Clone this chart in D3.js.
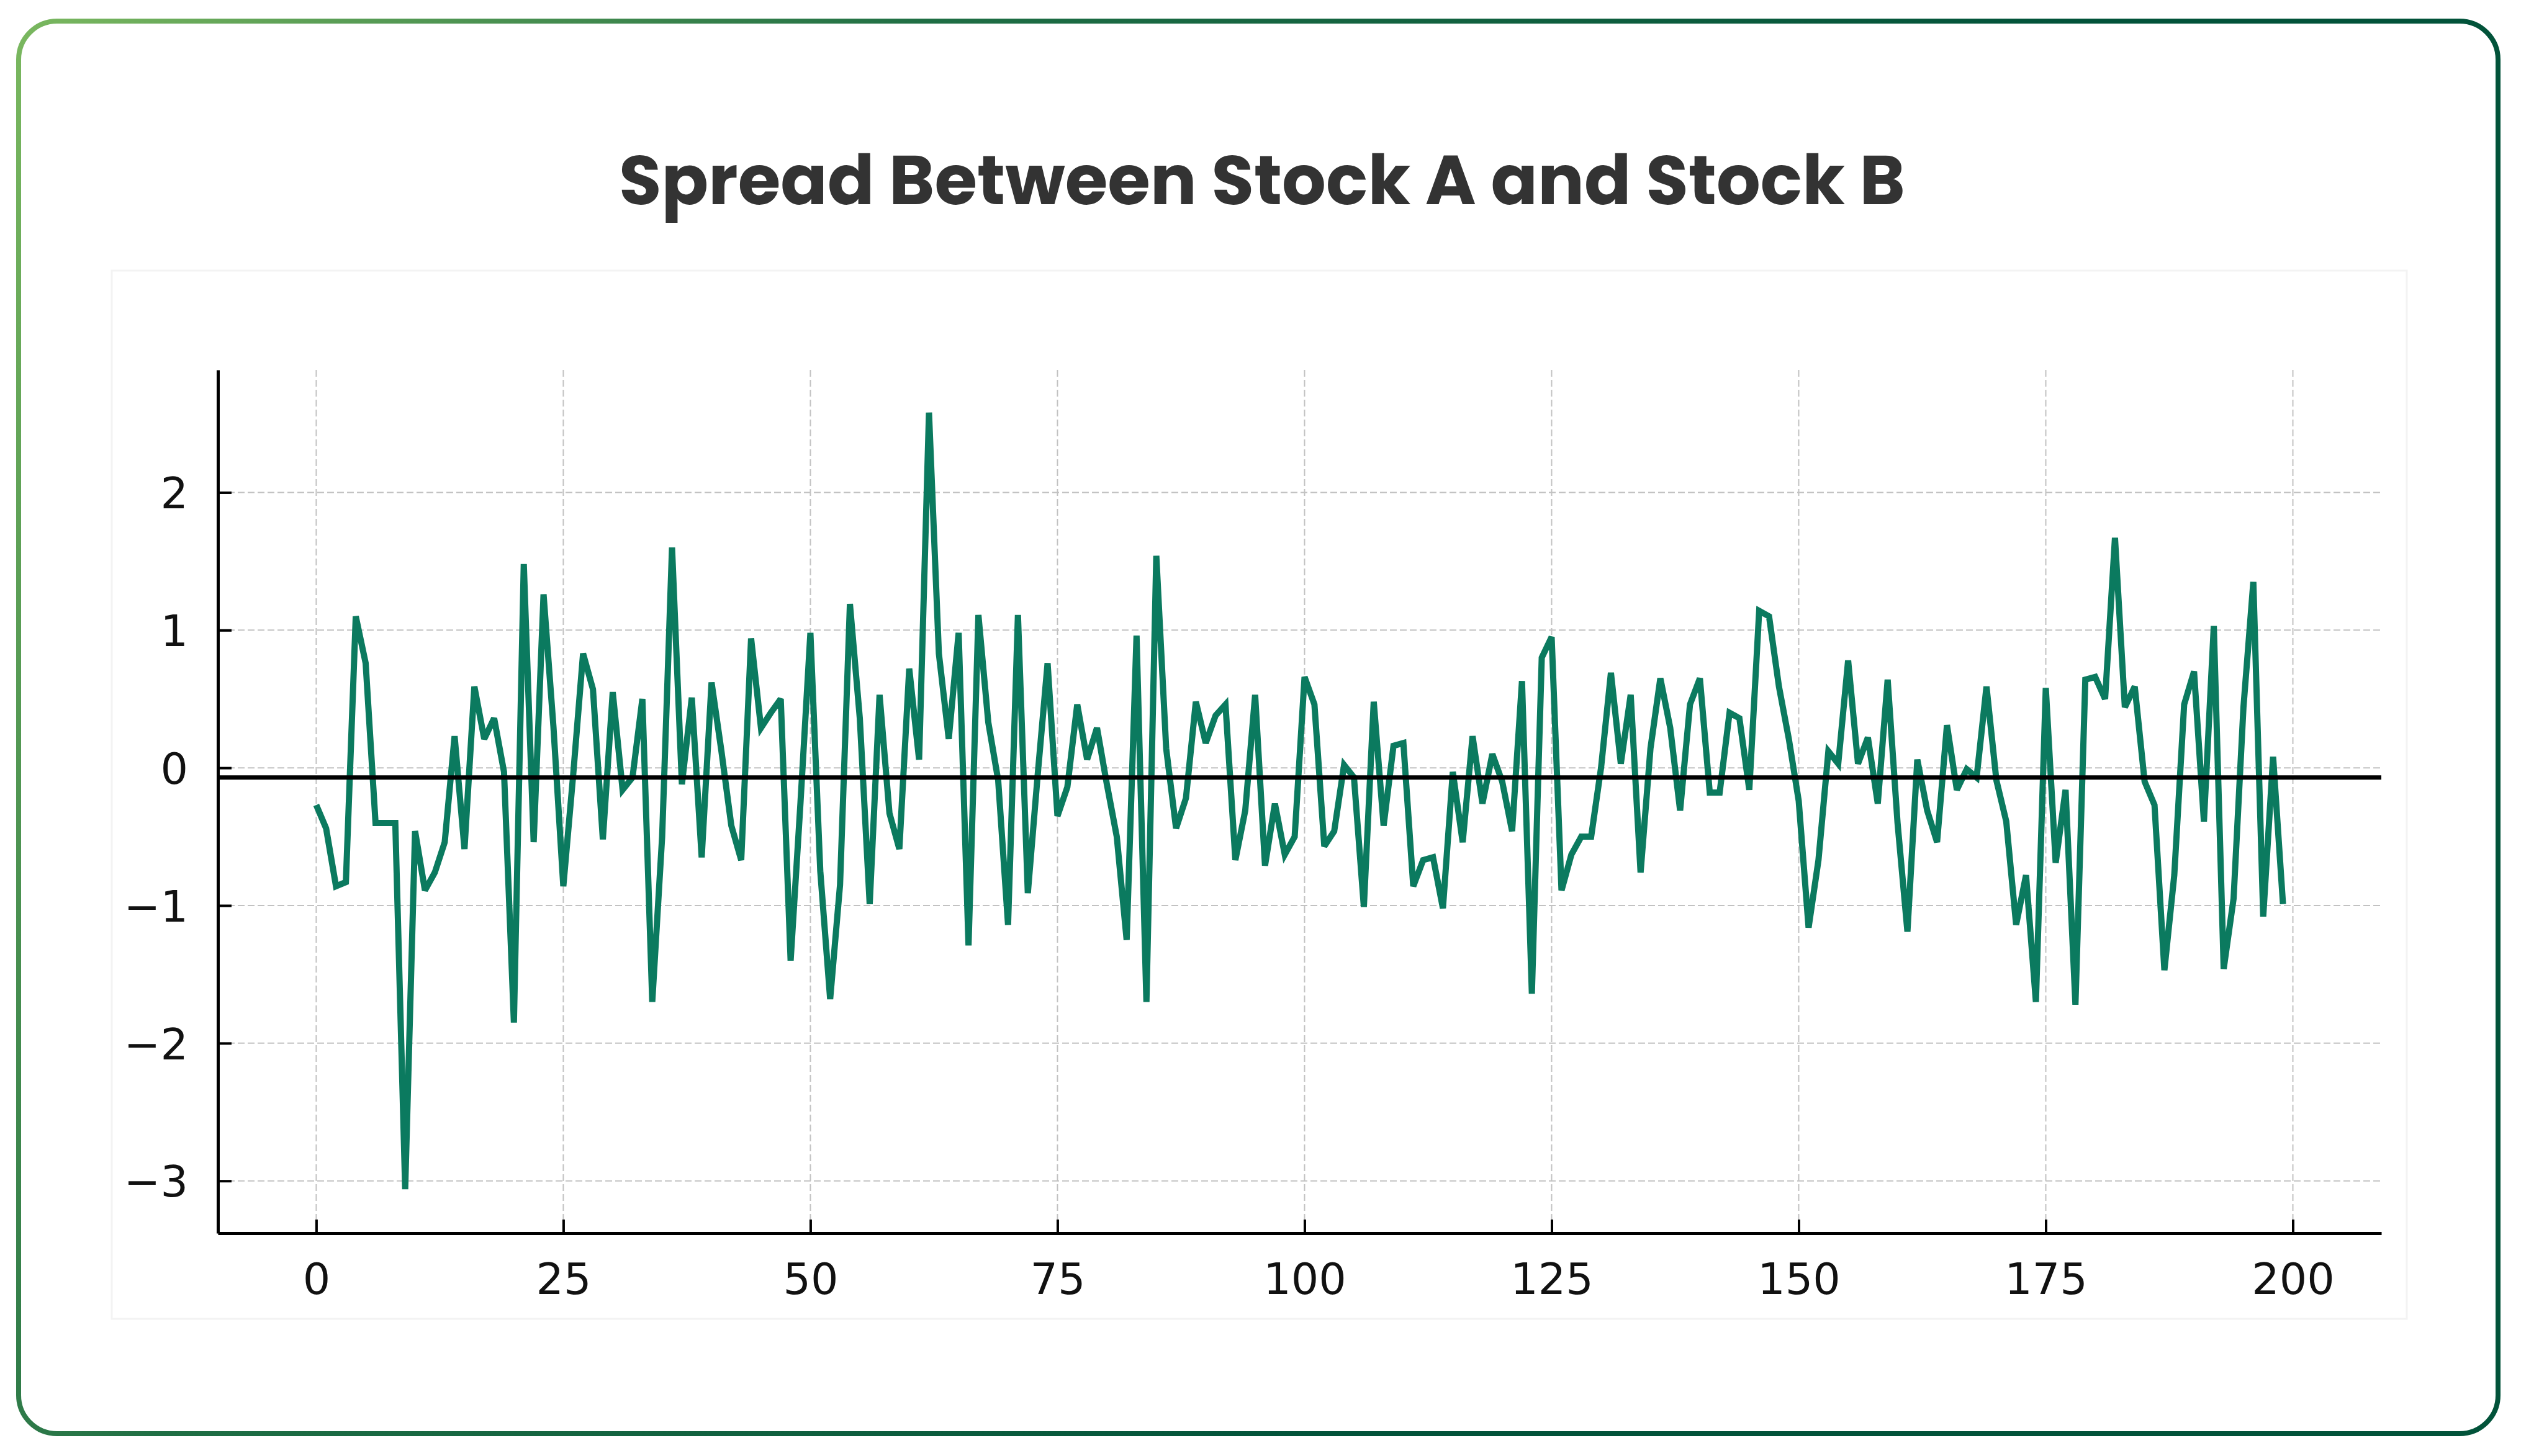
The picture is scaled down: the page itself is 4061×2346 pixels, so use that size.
<!DOCTYPE html>
<html>
<head>
<meta charset="utf-8">
<script src="https://cdn.jsdelivr.net/npm/d3@7"></script>
<style>
  html, body { margin: 0; padding: 0; background: #fff; }
  svg { display: block; }
</style>
</head>
<body>
<div id="chart"></div>
<script>
// values, one per day (index 0..199)
var title = "Spread Between Stock A and Stock B";
var spread = [
  -0.27, -0.44, -0.86, -0.83, 1.10, 0.76, -0.40, -0.40, -0.40, -3.06,
  -0.46, -0.89, -0.76, -0.54, 0.23, -0.59, 0.59, 0.21, 0.36, -0.03,
  -1.85, 1.48, -0.54, 1.26, 0.30, -0.86, -0.05, 0.83, 0.57, -0.52,
  0.55, -0.16, -0.07, 0.50, -1.70, -0.50, 1.60, -0.12, 0.51, -0.65,
  0.62, 0.12, -0.42, -0.67, 0.94, 0.29, 0.40, 0.50, -1.40, -0.25,
  0.98, -0.75, -1.68, -0.85, 1.19, 0.36, -0.99, 0.53, -0.33, -0.59,
  0.72, 0.06, 2.58, 0.83, 0.21, 0.98, -1.29, 1.11, 0.33, -0.09,
  -1.14, 1.11, -0.91, -0.05, 0.76, -0.35, -0.14, 0.46, 0.06, 0.29,
  -0.12, -0.50, -1.25, 0.96, -1.70, 1.54, 0.14, -0.44, -0.22, 0.48,
  0.18, 0.38, 0.46, -0.67, -0.31, 0.53, -0.71, -0.26, -0.63, -0.50,
  0.66, 0.46, -0.57, -0.46, 0.02, -0.07, -1.01, 0.48, -0.42, 0.16,
  0.18, -0.86, -0.67, -0.65, -1.02, -0.03, -0.54, 0.23, -0.26, 0.10,
  -0.10, -0.46, 0.63, -1.64, 0.80, 0.95, -0.89, -0.63, -0.50, -0.50,
  0.00, 0.69, 0.03, 0.53, -0.76, 0.14, 0.65, 0.29, -0.31, 0.46,
  0.65, -0.18, -0.18, 0.40, 0.36, -0.16, 1.14, 1.10, 0.59, 0.21,
  -0.24, -1.16, -0.67, 0.12, 0.03, 0.78, 0.03, 0.22, -0.26, 0.64,
  -0.40, -1.19, 0.06, -0.31, -0.54, 0.31, -0.16, -0.01, -0.07, 0.59,
  -0.09, -0.39, -1.14, -0.78, -1.70, 0.58, -0.69, -0.16, -1.72, 0.64,
  0.66, 0.50, 1.67, 0.44, 0.59, -0.10, -0.27, -1.47, -0.78, 0.46,
  0.70, -0.39, 1.03, -1.46, -0.95, 0.44, 1.35, -1.08, 0.08, -0.99
];
var meanSpread = -0.07;
var xTicks = [0, 25, 50, 75, 100, 125, 150, 175, 200];
var yTicks = [-3, -2, -1, 0, 1, 2];
var xLimits = [-9.95, 208.95];
var yLimits = [-3.38, 2.89];

var W = 4061, H = 2346;
var svg = d3.select("#chart").append("svg")
  .attr("width", W)
  .attr("height", H);

// card border with a green gradient
var defs = svg.append("defs");
var grad = defs.append("linearGradient")
  .attr("id", "cardGrad")
  .attr("gradientUnits", "userSpaceOnUse")
  .attr("x1", 0).attr("y1", 0)
  .attr("x2", 2600).attr("y2", 1400);
grad.append("stop").attr("offset", "0%").attr("stop-color", "#7dba60");
grad.append("stop").attr("offset", "45%").attr("stop-color", "#1f6e44");
grad.append("stop").attr("offset", "100%").attr("stop-color", "#02533a");

svg.append("rect")
  .attr("x", 30).attr("y", 34)
  .attr("width", 3994).attr("height", 2276)
  .attr("rx", 62).attr("ry", 62)
  .attr("fill", "#fff")
  .attr("stroke", "url(#cardGrad)")
  .attr("stroke-width", 8);

// faint figure panel
svg.append("rect")
  .attr("x", 180).attr("y", 436)
  .attr("width", 3697).attr("height", 1689)
  .attr("fill", "#fff")
  .attr("stroke", "#f3f3f3")
  .attr("stroke-width", 3);

// title, fitted to the width it has in the picture
var titleText = svg.append("text")
  .attr("x", 2033).attr("y", 329)
  .attr("text-anchor", "middle")
  .style("font-family", "Poppins, 'Open Sans', Inter, sans-serif")
  .style("font-weight", 700)
  .style("font-size", "110px")
  .attr("fill", "#333333")
  .text(title);
var tw = titleText.node().getComputedTextLength();
titleText.style("font-size", (110 * 2072 / tw) + "px");

var margin = { top: 596, right: W - 3836, bottom: H - 1987, left: 351 };
var width = W - margin.left - margin.right,
  height = H - margin.top - margin.bottom;

var g = svg.append("g")
  .attr("transform", "translate(" + margin.left + "," + margin.top + ")");

var x = d3.scaleLinear().domain(xLimits).range([0, width]);
var y = d3.scaleLinear().domain(yLimits).range([height, 0]);

// grid
g.append("g").attr("class", "grid")
  .selectAll("line.vg")
  .data(xTicks)
  .enter().append("line")
  .attr("x1", function (d) { return x(d); })
  .attr("x2", function (d) { return x(d); })
  .attr("y1", 0).attr("y2", height)
  .attr("stroke", "#c2c2c2")
  .attr("stroke-width", 2)
  .attr("stroke-dasharray", "11,5");

g.append("g").attr("class", "grid")
  .selectAll("line.hg")
  .data(yTicks)
  .enter().append("line")
  .attr("x1", 0).attr("x2", width)
  .attr("y1", function (d) { return y(d); })
  .attr("y2", function (d) { return y(d); })
  .attr("stroke", "#c2c2c2")
  .attr("stroke-width", 2)
  .attr("stroke-dasharray", "11,5");

// spread line
var line = d3.line()
  .x(function (d, i) { return x(i); })
  .y(function (d) { return y(d); });

g.append("path")
  .datum(spread)
  .attr("d", line)
  .attr("fill", "none")
  .attr("stroke", "#0b7a5f")
  .attr("stroke-width", 10)
  .attr("stroke-linejoin", "miter")
  .attr("stroke-miterlimit", 3);

// mean line
g.append("line")
  .attr("x1", 0).attr("x2", width)
  .attr("y1", y(meanSpread)).attr("y2", y(meanSpread))
  .attr("stroke", "#000")
  .attr("stroke-width", 7);

// axes (ticks pointing inwards like the original)
var fmt = function (d) { return d < 0 ? "\u2212" + Math.abs(d) : "" + d; };

var xAxis = d3.axisBottom(x).tickValues(xTicks).tickFormat(fmt)
  .tickSizeInner(-22).tickSizeOuter(0).tickPadding(48);
var yAxis = d3.axisLeft(y).tickValues(yTicks).tickFormat(fmt)
  .tickSizeInner(-22).tickSizeOuter(0).tickPadding(48);

var gx = g.append("g")
  .attr("class", "x-axis axis")
  .attr("transform", "translate(0," + height + ")")
  .call(xAxis);
var gy = g.append("g")
  .attr("class", "y-axis axis")
  .call(yAxis);

[gx, gy].forEach(function (a) {
  a.select(".domain").attr("stroke", "#000").attr("stroke-width", 5);
  a.selectAll(".tick line").attr("stroke", "#000").attr("stroke-width", 4);
  a.selectAll(".tick text")
    .attr("fill", "#111")
    .style("font-family", "'DejaVu Sans', sans-serif")
    .style("font-size", "70px");
});
gy.selectAll(".tick text").attr("dy", "0.36em");
gx.selectAll(".tick text").attr("dy", "0.72em");
</script>
</body>
</html>
